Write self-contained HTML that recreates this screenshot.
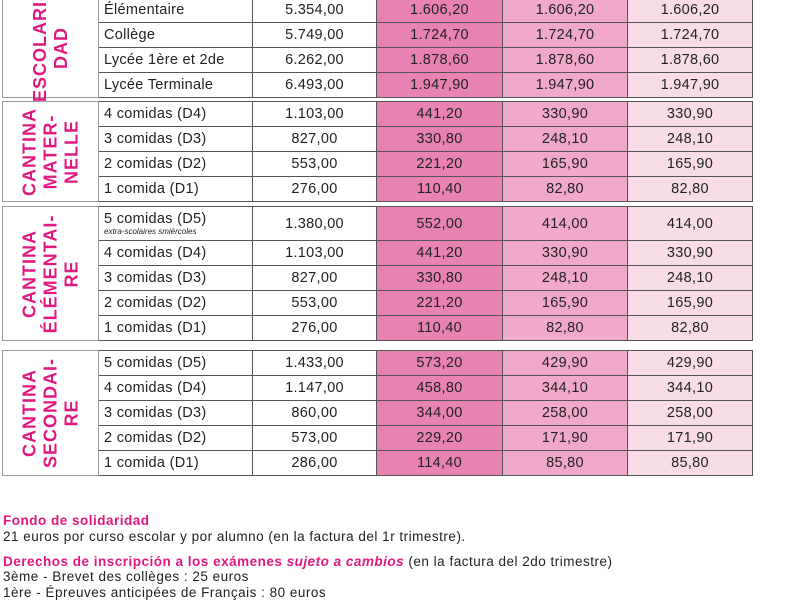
<!DOCTYPE html>
<html><head><meta charset="utf-8"><style>
body{margin:0;width:800px;height:600px;overflow:hidden;background:#fff;font-family:"Liberation Sans",sans-serif;position:relative}
table{position:absolute;left:2px;width:751px;border-collapse:collapse;table-layout:fixed;font-size:14.5px;color:#222;letter-spacing:0.3px}
td{border:1px solid #555;padding:0;text-align:center;height:24px;white-space:nowrap;line-height:16px}
td.n{text-align:left;padding-left:5px}
td.c1{background:#e882b3}td.c2{background:#f0a9cb}td.c3{background:#f8dde9}
td.lab{border-color:#999;position:relative}
.v{position:absolute;left:50%;top:50%;transform:translate(-50%,-50%) rotate(-90deg);color:#e0187f;font-weight:bold;font-size:18px;line-height:21px;text-align:center;letter-spacing:1px}
.s{font-size:8px;font-style:italic;display:block;line-height:9px;letter-spacing:0}
.t{position:absolute;left:3px;font-size:13.5px;letter-spacing:0.5px;color:#222;white-space:nowrap}
.p{color:#e0187f;font-weight:bold}
</style></head><body>
<table style="top:-3px">
<col style="width:96px"><col style="width:154px"><col style="width:124px"><col style="width:126px"><col style="width:125px"><col style="width:125px">
<tr><td class="lab" rowspan="4"><div class="v">ESCOLARI-<br>DAD</div></td><td class="n">Élémentaire</td><td>5.354,00</td><td class="c1">1.606,20</td><td class="c2">1.606,20</td><td class="c3">1.606,20</td></tr>
<tr><td class="n">Collège</td><td>5.749,00</td><td class="c1">1.724,70</td><td class="c2">1.724,70</td><td class="c3">1.724,70</td></tr>
<tr><td class="n">Lycée 1ère et 2de</td><td>6.262,00</td><td class="c1">1.878,60</td><td class="c2">1.878,60</td><td class="c3">1.878,60</td></tr>
<tr><td class="n">Lycée Terminale</td><td>6.493,00</td><td class="c1">1.947,90</td><td class="c2">1.947,90</td><td class="c3">1.947,90</td></tr>
</table>
<table style="top:101px">
<col style="width:96px"><col style="width:154px"><col style="width:124px"><col style="width:126px"><col style="width:125px"><col style="width:125px">
<tr><td class="lab" rowspan="4"><div class="v">CANTINA<br>MATER-<br>NELLE</div></td><td class="n">4 comidas (D4)</td><td>1.103,00</td><td class="c1">441,20</td><td class="c2">330,90</td><td class="c3">330,90</td></tr>
<tr><td class="n">3 comidas (D3)</td><td>827,00</td><td class="c1">330,80</td><td class="c2">248,10</td><td class="c3">248,10</td></tr>
<tr><td class="n">2 comidas (D2)</td><td>553,00</td><td class="c1">221,20</td><td class="c2">165,90</td><td class="c3">165,90</td></tr>
<tr><td class="n">1 comida (D1)</td><td>276,00</td><td class="c1">110,40</td><td class="c2">82,80</td><td class="c3">82,80</td></tr>
</table>
<table style="top:206px">
<col style="width:96px"><col style="width:154px"><col style="width:124px"><col style="width:126px"><col style="width:125px"><col style="width:125px">
<tr><td class="lab" rowspan="5"><div class="v">CANTINA<br>ÉLÉMENTAI-<br>RE</div></td><td class="n" style="height:33px">5 comidas (D5)<span class="s">extra-scolaires smiércoles</span></td><td>1.380,00</td><td class="c1">552,00</td><td class="c2">414,00</td><td class="c3">414,00</td></tr>
<tr><td class="n">4 comidas (D4)</td><td>1.103,00</td><td class="c1">441,20</td><td class="c2">330,90</td><td class="c3">330,90</td></tr>
<tr><td class="n">3 comidas (D3)</td><td>827,00</td><td class="c1">330,80</td><td class="c2">248,10</td><td class="c3">248,10</td></tr>
<tr><td class="n">2 comidas (D2)</td><td>553,00</td><td class="c1">221,20</td><td class="c2">165,90</td><td class="c3">165,90</td></tr>
<tr><td class="n">1 comidas (D1)</td><td>276,00</td><td class="c1">110,40</td><td class="c2">82,80</td><td class="c3">82,80</td></tr>
</table>
<table style="top:350px">
<col style="width:96px"><col style="width:154px"><col style="width:124px"><col style="width:126px"><col style="width:125px"><col style="width:125px">
<tr><td class="lab" rowspan="5"><div class="v">CANTINA<br>SECONDAI-<br>RE</div></td><td class="n">5 comidas (D5)</td><td>1.433,00</td><td class="c1">573,20</td><td class="c2">429,90</td><td class="c3">429,90</td></tr>
<tr><td class="n">4 comidas (D4)</td><td>1.147,00</td><td class="c1">458,80</td><td class="c2">344,10</td><td class="c3">344,10</td></tr>
<tr><td class="n">3 comidas (D3)</td><td>860,00</td><td class="c1">344,00</td><td class="c2">258,00</td><td class="c3">258,00</td></tr>
<tr><td class="n">2 comidas (D2)</td><td>573,00</td><td class="c1">229,20</td><td class="c2">171,90</td><td class="c3">171,90</td></tr>
<tr><td class="n">1 comida (D1)</td><td>286,00</td><td class="c1">114,40</td><td class="c2">85,80</td><td class="c3">85,80</td></tr>
</table>
<div class="t p" style="top:513px">Fondo de solidaridad</div>
<div class="t" style="top:529px">21 euros por curso escolar y por alumno (en la factura del 1r trimestre).</div>
<div class="t" style="top:554px"><span class="p">Derechos de inscripción a los exámenes <i>sujeto a cambios</i></span> (en la factura del 2do trimestre)</div>
<div class="t" style="top:569px">3ème - Brevet des collèges : 25 euros</div>
<div class="t" style="top:585px">1ère - Épreuves anticipées de Français : 80 euros</div>
</body></html>
